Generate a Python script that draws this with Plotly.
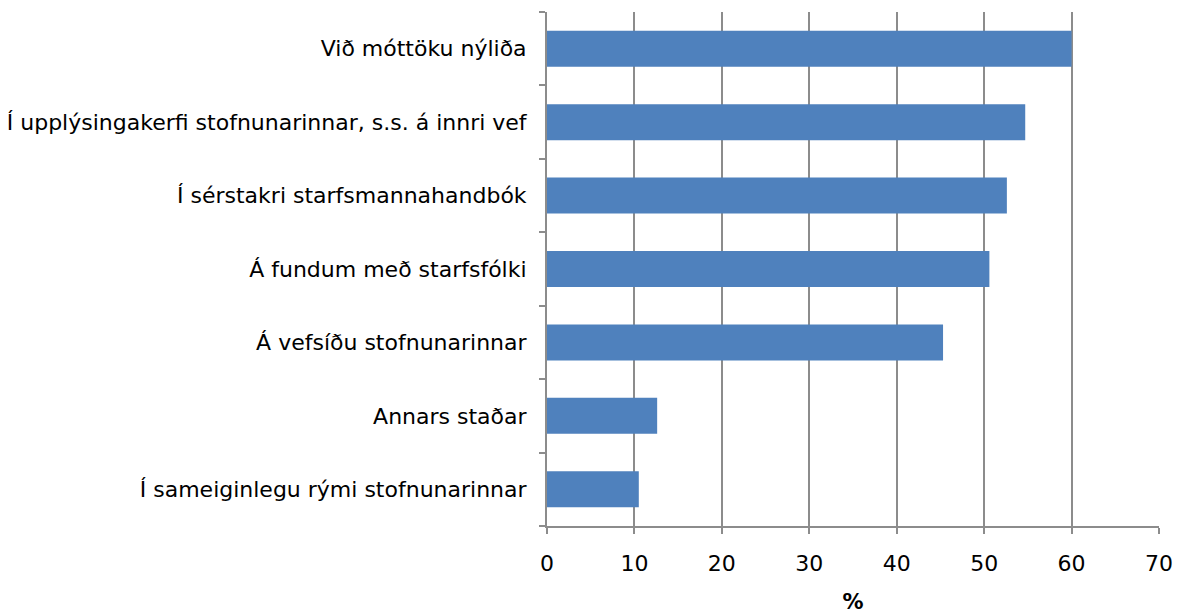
import plotly.graph_objects as go

categories = [
    "Í sameiginlegu rými stofnunarinnar",
    "Annars staðar",
    "Á vefsíðu stofnunarinnar",
    "Á fundum með starfsfólki",
    "Í sérstakri starfsmannahandbók",
    "Í upplýsingakerfi stofnunarinnar, s.s. á innri vef",
    "Við móttöku nýliða",
]
values = [10.5, 12.6, 45.3, 50.6, 52.6, 54.7, 60.0]
x_ticks = [0, 10, 20, 30, 40, 50, 60, 70]

fig = go.Figure(
    go.Bar(
        y=categories,
        x=values,
        orientation="h",
        marker=dict(color="#4F81BD", line=dict(width=0)),
        hoverinfo="x+y",
    )
)

# page body has an 8px margin, so the figure is 8px smaller each way
fig.update_layout(
    width=1174,
    height=606,
    margin=dict(l=539, r=23, t=4, b=88),
    plot_bgcolor="white",
    paper_bgcolor="white",
    bargap=0.51,
    showlegend=False,
    font=dict(family="DejaVu Sans, Verdana, sans-serif", size=22, color="black"),
)

fig.update_xaxes(
    range=[0, 70],
    tickvals=x_ticks,
    showgrid=True,
    gridcolor="#8C8C8C",
    gridwidth=1.5,
    showline=True,
    linecolor="#8C8C8C",
    linewidth=2,
    ticks="outside",
    ticklen=6,
    tickcolor="#8C8C8C",
    tickwidth=1.5,
    zeroline=False,
    automargin=False,
    title=dict(text="<b>%</b>", font=dict(size=21), standoff=24),
    ticklabelstandoff=11,
)

fig.update_yaxes(
    type="category",
    categoryorder="array",
    categoryarray=categories,
    showline=True,
    linecolor="#8C8C8C",
    linewidth=2,
    ticks="outside",
    tickson="boundaries",
    ticklen=6,
    tickcolor="#8C8C8C",
    tickwidth=1.5,
    showgrid=False,
    automargin=False,
    ticklabelstandoff=14,
)

fig.write_html("out.html")
